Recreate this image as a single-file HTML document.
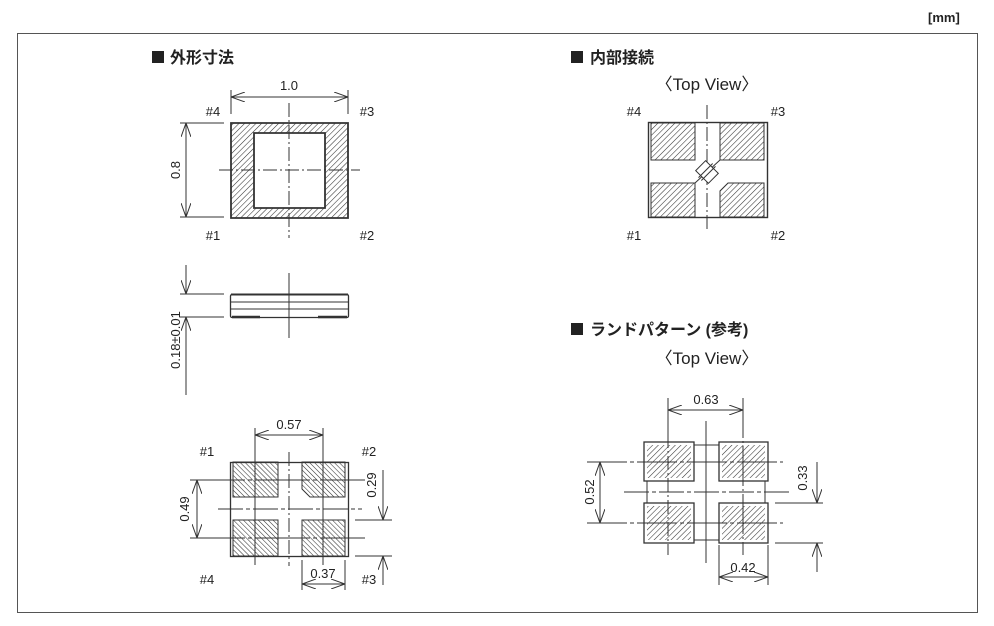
<!DOCTYPE html>
<html><head><meta charset="utf-8"><style>
html,body{margin:0;padding:0;background:#fff;}
svg{display:block;}
text{font-family:"Liberation Sans","Noto Sans CJK JP",sans-serif;fill:#222;}
.t{font-size:13px;}
.h{font-size:16px;font-weight:bold;}
.v{font-size:17px;}
</style></head><body>
<svg width="994" height="626" viewBox="0 0 994 626" xmlns="http://www.w3.org/2000/svg">
<defs>
<pattern id="hR" patternUnits="userSpaceOnUse" width="4" height="4" patternTransform="rotate(45)">
<line x1="0" y1="0" x2="0" y2="4" stroke="#333" stroke-width="1.1"/></pattern>
<pattern id="hL" patternUnits="userSpaceOnUse" width="3.5" height="3.5" patternTransform="rotate(-45)">
<line x1="0" y1="0" x2="0" y2="3.5" stroke="#333" stroke-width="1.1"/></pattern>
<marker id="a" viewBox="0 0 14 10" refX="14" refY="5" markerWidth="14" markerHeight="10" orient="auto-start-reverse" markerUnits="userSpaceOnUse">
<path d="M0,0 L14,5 L0,10" fill="none" stroke="#333" stroke-width="1"/></marker>
</defs>
<g stroke="#333" stroke-width="1" fill="none">
<rect x="17.5" y="33.5" width="960" height="579" stroke="#555"/>
</g>
<text x="928" y="22" style="font-size:13px;font-weight:bold">[mm]</text>

<rect x="152" y="51" width="12" height="12" fill="#222"/>
<text x="170" y="63" class="h">外形寸法</text>
<rect x="571" y="51" width="12" height="12" fill="#222"/>
<text x="590" y="63" class="h">内部接続</text>
<text x="707" y="90" class="v" text-anchor="middle">〈Top View〉</text>
<rect x="571" y="323" width="12" height="12" fill="#222"/>
<text x="590" y="335" class="h">ランドパターン (参考)</text>
<text x="707" y="364" class="v" text-anchor="middle">〈Top View〉</text>

<g stroke="#333" fill="none">
<path d="M231,123 H348 V218 H231Z M254,133 V208 H325 V133Z" fill="url(#hR)" fill-rule="evenodd" stroke-width="1.8"/>
<line x1="289" y1="103" x2="289" y2="238" stroke-dasharray="14,3,2,3"/>
<line x1="219" y1="170" x2="360" y2="170" stroke-dasharray="14,3,2,3"/>
<line x1="231" y1="90" x2="231" y2="114"/><line x1="348" y1="90" x2="348" y2="114"/>
<line x1="231" y1="97" x2="348" y2="97" marker-start="url(#a)" marker-end="url(#a)"/>
<line x1="180" y1="123" x2="224" y2="123"/><line x1="180" y1="217" x2="224" y2="217"/>
<line x1="186" y1="123" x2="186" y2="217" marker-start="url(#a)" marker-end="url(#a)"/>
</g>
<text x="289" y="90" class="t" text-anchor="middle">1.0</text>
<text x="180" y="170" class="t" text-anchor="middle" transform="rotate(-90 180 170)">0.8</text>
<text x="213" y="116" class="t" text-anchor="middle">#4</text>
<text x="367" y="116" class="t" text-anchor="middle">#3</text>
<text x="213" y="240" class="t" text-anchor="middle">#1</text>
<text x="367" y="240" class="t" text-anchor="middle">#2</text>

<g stroke="#333" fill="none">
<rect x="230.5" y="294.5" width="118" height="23" rx="1.5" stroke-width="1.3"/>
<line x1="231" y1="302" x2="348" y2="302"/><line x1="231" y1="309" x2="348" y2="309"/>
<line x1="231" y1="294.5" x2="348" y2="294.5" stroke-width="2"/>
<line x1="232" y1="317" x2="260" y2="317" stroke-width="2.5"/><line x1="318" y1="317" x2="347" y2="317" stroke-width="2.5"/>
<line x1="289" y1="273" x2="289" y2="338"/>
<line x1="180" y1="294" x2="224" y2="294"/><line x1="180" y1="317" x2="224" y2="317"/>
<line x1="186" y1="265" x2="186" y2="294" marker-end="url(#a)"/>
<line x1="186" y1="395" x2="186" y2="317" marker-end="url(#a)"/>
</g>
<text x="180" y="340" class="t" text-anchor="middle" transform="rotate(-90 180 340)">0.18±0.01</text>

<g stroke="#333" fill="none">
<rect x="230.5" y="462.5" width="118" height="94" stroke-width="1.3"/>
<rect x="233" y="462" width="45" height="35" fill="url(#hL)"/>
<path d="M302,462 H345 V497 H310 L302,489Z" fill="url(#hL)"/>
<rect x="233" y="520" width="45" height="36" fill="url(#hL)"/>
<rect x="302" y="520" width="43" height="36" fill="url(#hL)"/>
<line x1="289" y1="452" x2="289" y2="566" stroke-dasharray="14,3,2,3"/>
<line x1="255" y1="428" x2="255" y2="565"/><line x1="323" y1="428" x2="323" y2="565"/>
<line x1="190" y1="480" x2="365" y2="480" stroke-dasharray="55,3,4,3"/>
<line x1="190" y1="538" x2="365" y2="538" stroke-dasharray="55,3,4,3"/>
<line x1="218" y1="509" x2="362" y2="509" stroke-dasharray="25,3,4,3"/>
<line x1="255" y1="435" x2="323" y2="435" marker-start="url(#a)" marker-end="url(#a)"/>
<line x1="197" y1="480" x2="197" y2="538" marker-start="url(#a)" marker-end="url(#a)"/>
<line x1="355" y1="520" x2="392" y2="520"/><line x1="355" y1="556" x2="392" y2="556"/>
<line x1="383" y1="470" x2="383" y2="520" marker-end="url(#a)"/>
<line x1="383" y1="585" x2="383" y2="556" marker-end="url(#a)"/>
<line x1="302" y1="560" x2="302" y2="590"/><line x1="345" y1="560" x2="345" y2="590"/>
<line x1="302" y1="584" x2="345" y2="584" marker-start="url(#a)" marker-end="url(#a)"/>
</g>
<text x="289" y="429" class="t" text-anchor="middle">0.57</text>
<text x="189" y="509" class="t" text-anchor="middle" transform="rotate(-90 189 509)">0.49</text>
<text x="376" y="485" class="t" text-anchor="middle" transform="rotate(-90 376 485)">0.29</text>
<text x="323" y="578" class="t" text-anchor="middle">0.37</text>
<text x="207" y="456" class="t" text-anchor="middle">#1</text>
<text x="369" y="456" class="t" text-anchor="middle">#2</text>
<text x="207" y="584" class="t" text-anchor="middle">#4</text>
<text x="369" y="584" class="t" text-anchor="middle">#3</text>

<g stroke="#333" fill="none">
<rect x="648.5" y="122.5" width="119" height="95" stroke-width="1.4"/>
<rect x="651" y="123" width="44" height="37" fill="url(#hR)"/>
<rect x="720" y="123" width="44" height="37" fill="url(#hR)"/>
<rect x="651" y="183" width="44" height="34" fill="url(#hR)"/>
<path d="M728,183 H764 V217 H720 V191Z" fill="url(#hR)"/>
<line x1="707" y1="105" x2="707" y2="232" stroke-dasharray="14,3,2,3"/>
<line x1="695" y1="183" x2="720" y2="160"/>
<g transform="rotate(-45 707 172)">
<rect x="700" y="163" width="14" height="18" fill="#fff"/>
<line x1="697" y1="170" x2="717" y2="170"/><line x1="697" y1="174" x2="717" y2="174"/>
</g>
</g>
<text x="634" y="116" class="t" text-anchor="middle">#4</text>
<text x="778" y="116" class="t" text-anchor="middle">#3</text>
<text x="634" y="240" class="t" text-anchor="middle">#1</text>
<text x="778" y="240" class="t" text-anchor="middle">#2</text>

<g stroke="#333" fill="none">
<rect x="644" y="442" width="50" height="39" stroke-width="1.3"/><rect x="647" y="445" width="44" height="33" fill="url(#hR)" stroke="none"/>
<rect x="719" y="442" width="49" height="39" stroke-width="1.3"/><rect x="722" y="445" width="43" height="33" fill="url(#hR)" stroke="none"/>
<rect x="644" y="503" width="50" height="40" stroke-width="1.3"/><rect x="647" y="506" width="44" height="34" fill="url(#hR)" stroke="none"/>
<rect x="719" y="503" width="49" height="40" stroke-width="1.3"/><rect x="722" y="506" width="43" height="34" fill="url(#hR)" stroke="none"/>
<line x1="694" y1="445" x2="719" y2="445"/><line x1="694" y1="540" x2="719" y2="540"/>
<line x1="647" y1="481" x2="647" y2="503"/><line x1="765" y1="481" x2="765" y2="503"/>
<line x1="668" y1="434" x2="668" y2="555" stroke-dasharray="14,3,2,3"/>
<line x1="743" y1="398" x2="743" y2="555" stroke-dasharray="40,3,2,3"/>
<line x1="668" y1="398" x2="668" y2="434"/>
<line x1="706" y1="421" x2="706" y2="563"/>
<line x1="587" y1="462" x2="783" y2="462" stroke-dasharray="40,3,4,3"/>
<line x1="587" y1="523" x2="783" y2="523" stroke-dasharray="40,3,4,3"/>
<line x1="624" y1="492" x2="790" y2="492" stroke-dasharray="25,3,4,3"/>
<line x1="668" y1="410" x2="743" y2="410" marker-start="url(#a)" marker-end="url(#a)"/>
<line x1="600" y1="462" x2="600" y2="523" marker-start="url(#a)" marker-end="url(#a)"/>
<line x1="775" y1="503" x2="823" y2="503"/><line x1="775" y1="543" x2="823" y2="543"/>
<line x1="817" y1="462" x2="817" y2="503" marker-end="url(#a)"/>
<line x1="817" y1="572" x2="817" y2="543" marker-end="url(#a)"/>
<line x1="719" y1="545" x2="719" y2="585"/><line x1="768" y1="545" x2="768" y2="585"/>
<line x1="719" y1="577" x2="768" y2="577" marker-start="url(#a)" marker-end="url(#a)"/>
</g>
<text x="706" y="404" class="t" text-anchor="middle">0.63</text>
<text x="594" y="492" class="t" text-anchor="middle" transform="rotate(-90 594 492)">0.52</text>
<text x="807" y="478" class="t" text-anchor="middle" transform="rotate(-90 807 478)">0.33</text>
<text x="743" y="572" class="t" text-anchor="middle">0.42</text>
</svg>
</body></html>
